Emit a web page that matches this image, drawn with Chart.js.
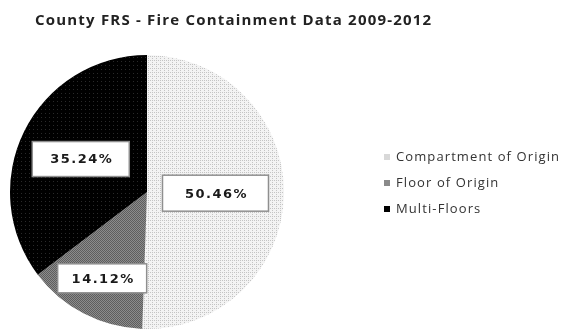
<!DOCTYPE html>
<html>
<head>
<meta charset="utf-8">
<script src="https://cdn.jsdelivr.net/npm/chart.js@4/dist/chart.umd.min.js"></script>
<style>
  html, body { margin: 0; padding: 0; background: #fff; overflow: hidden; }
  canvas { display: block; }
</style>
</head>
<body>
<canvas id="myChart" width="581" height="340"></canvas>
<script>
var chartTitle = 'County FRS - Fire Containment Data 2009-2012';
var categories = ['Compartment of Origin', 'Floor of Origin', 'Multi-Floors'];
var shares = [50.46, 14.12, 35.24];
var shareLabels = ['50.46%', '14.12%', '35.24%'];

// small tiles for the excel-ish hatch fills
function makePattern(bg, dot, size, cells) {
    var c = document.createElement('canvas');
    c.width = size; c.height = size;
    var x = c.getContext('2d');
    x.fillStyle = bg;
    x.fillRect(0, 0, size, size);
    x.fillStyle = dot;
    cells.forEach(function (p) { x.fillRect(p[0], p[1], 1, 1); });
    return x.createPattern(c, 'repeat');
}

var ctx = document.getElementById('myChart').getContext('2d');
var fills = [
    makePattern('#f3f3f3', '#c4c4c4', 4, [[0, 0], [2, 0], [0, 2]]),
    makePattern('#8c8c8c', '#5e5e5e', 2, [[0, 0], [1, 1]]),
    makePattern('#000000', '#2a2a2a', 4, [[1, 1]])
];
var legendSwatch = ['#d8d8d8', '#8a8a8a', '#000000'];

var labelBoxes = {
    id: 'labelBoxes',
    afterDatasetsDraw: function (chart) {
        var c = chart.ctx;
        var meta = chart.getDatasetMeta(0);
        var radiusFrac = [0.5, 0.71, 0.54];
        var boxW = [106, 89, 97];
        var boxH = [36, 29, 35];
        c.save();
        c.font = 'bold 13px "DejaVu Sans"';
        c.letterSpacing = '1.5px';
        c.textAlign = 'center';
        c.textBaseline = 'middle';
        meta.data.forEach(function (arc, i) {
            var mid = (arc.startAngle + arc.endAngle) / 2;
            var r = arc.outerRadius * radiusFrac[i];
            var cx = arc.x + Math.cos(mid) * r;
            var cy = arc.y + Math.sin(mid) * r;
            c.fillStyle = '#fff';
            c.fillRect(cx - boxW[i] / 2, cy - boxH[i] / 2, boxW[i], boxH[i]);
            c.strokeStyle = '#8f8f8f';
            c.lineWidth = 1.5;
            c.strokeRect(cx - boxW[i] / 2, cy - boxH[i] / 2, boxW[i], boxH[i]);
            c.fillStyle = '#1a1a1a';
            c.fillText(shareLabels[i], cx + 1, cy + 1);
        });
        c.restore();
    },
    afterDraw: function (chart) {
        var c = chart.ctx;
        c.save();
        c.fillStyle = '#222';
        c.textBaseline = 'middle';
        c.font = 'bold 15px "Open Sans"';
        c.letterSpacing = '1.2px';
        c.fillText(chartTitle, 35, 21);
        // legend
        c.font = '13px "Open Sans"';
        c.letterSpacing = '1.1px';
        categories.forEach(function (name, i) {
            var y = 157 + i * 26;
            c.fillStyle = legendSwatch[i];
            c.fillRect(384, y - 3, 6, 6);
            c.fillStyle = '#333';
            c.fillText(name, 396, y);
        });
        c.restore();
    }
};

var myChart = new Chart(ctx, {
    type: 'pie',
    data: {
        labels: categories,
        datasets: [{
            data: shares,
            backgroundColor: fills,
            borderWidth: 0
        }]
    },
    options: {
        responsive: false,
        animation: false,
        rotation: 0,
        layout: { padding: { left: 10, right: 297, top: 55, bottom: 11 } },
        plugins: {
            legend: { display: false },
            tooltip: { enabled: false }
        }
    },
    plugins: [labelBoxes]
});
</script>
</body>
</html>
